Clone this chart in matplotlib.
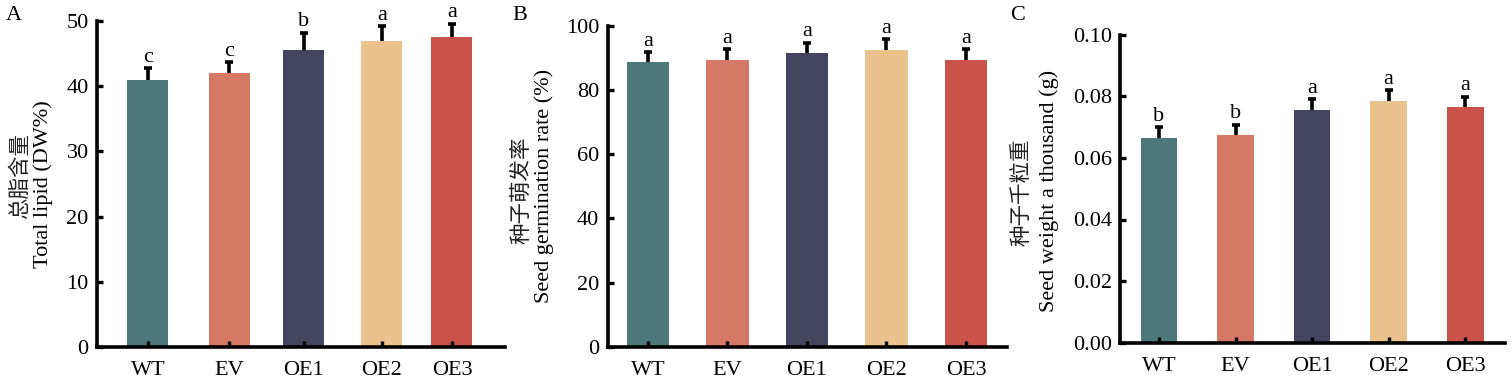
import matplotlib
matplotlib.use("Agg")
import matplotlib.pyplot as plt

# ---- data ----
genotypes = ["WT", "EV", "OE1", "OE2", "OE3"]
colors = ["#4E777A", "#D57866", "#43455E", "#EAC28D", "#C9534B"]

lipid = [41.0, 42.0, 45.6, 47.0, 47.5]
lipid_err = [1.8, 1.7, 2.6, 2.2, 2.1]
lipid_sig = ["c", "c", "b", "a", "a"]

germ = [88.7, 89.5, 91.6, 92.4, 89.5]
germ_err = [3.1, 3.3, 3.2, 3.4, 3.3]
germ_sig = ["a", "a", "a", "a", "a"]

weight = [0.0666, 0.0674, 0.0756, 0.0786, 0.0765]
weight_err = [0.0034, 0.0034, 0.0034, 0.0034, 0.0034]
weight_sig = ["b", "b", "a", "a", "a"]

# ---- layout ----
W, H = 1512, 383
fig = plt.figure(figsize=(W / 100, H / 100), dpi=100)
fam = ["Liberation Serif", "Noto Sans CJK SC"]
plt.rcParams["font.family"] = fam
FS = 16

panels = [
    dict(rect=[97, 21, 505, 347], vals=lipid, err=lipid_err, sig=lipid_sig,
         pos=[0, 1.04, 2.0, 3.0, 3.9], xlim=(-0.654, 4.58), width=0.526,
         ylim=(0, 50), yticks=[0, 10, 20, 30, 40, 50], fmt="{:.0f}",
         cn="总脂含量", en="Total lipid (DW%)",
         cnxy=(21, 176), enxy=(43, 184), tag="A", tagxy=(14, 15)),
    dict(rect=[607.7, 26, 1007, 346.7], vals=germ, err=germ_err, sig=germ_sig,
         pos=[0, 1, 2, 3, 4], xlim=(-0.507, 4.516), width=0.537,
         ylim=(0, 100), yticks=[0, 20, 40, 60, 80, 100], fmt="{:.0f}",
         cn="种子萌发率", en="Seed germination rate (%)",
         cnxy=(522, 190), enxy=(544, 186), tag="B", tagxy=(520, 15)),
    dict(rect=[1120, 34.7, 1505, 342.7], vals=weight, err=weight_err, sig=weight_sig,
         pos=[0, 1, 2, 3, 4], xlim=(-0.51, 4.52), width=0.48,
         ylim=(0, 0.10), yticks=[0, 0.02, 0.04, 0.06, 0.08, 0.10], fmt="{:.2f}",
         cn="种子千粒重", en="Seed weight a thousand (g)",
         cnxy=(1022, 192), enxy=(1049, 191), tag="C", tagxy=(1018, 15)),
]

for p in panels:
    l, t, r, b = p["rect"]
    ax = fig.add_axes([l / W, 1 - b / H, (r - l) / W, (b - t) / H])
    ax.bar(p["pos"], p["vals"], width=p["width"], color=colors, zorder=1)
    _, caps, _ = ax.errorbar(p["pos"], p["vals"], yerr=[[0] * 5, p["err"]], fmt="none",
                             ecolor="black", elinewidth=2.6, capsize=3.2, capthick=2.6,
                             zorder=3)
    caps[0].set_visible(False)
    yr = p["ylim"][1]
    for x, v, e, s in zip(p["pos"], p["vals"], p["err"], p["sig"]):
        ax.text(x, v + e + yr * 0.004, s, ha="center", va="bottom", fontsize=FS,
                family=fam)
    ax.set_xlim(*p["xlim"])
    ax.set_ylim(*p["ylim"])
    ax.set_xticks(p["pos"])
    ax.set_xticklabels(genotypes, fontsize=FS)
    ax.set_yticks(p["yticks"])
    ax.set_yticklabels([p["fmt"].format(v) for v in p["yticks"]], fontsize=FS)
    for side in ["top", "right"]:
        ax.spines[side].set_visible(False)
    for side in ["left", "bottom"]:
        ax.spines[side].set_linewidth(2.6)
        ax.spines[side].set_zorder(4)
    ax.tick_params(axis="both", direction="in", length=4, width=2.4, pad=6)
    ax.tick_params(axis="x", pad=10)
    for tk in ax.xaxis.get_major_ticks() + ax.yaxis.get_major_ticks():
        tk.tick1line.set_zorder(5)
    ax.set_axisbelow(False)
    fig.text(p["cnxy"][0] / W, 1 - p["cnxy"][1] / H, p["cn"], rotation=90,
             ha="center", va="center", fontsize=FS - 0.5, family=fam, color="#222222")
    fig.text(p["enxy"][0] / W, 1 - p["enxy"][1] / H, p["en"], rotation=90,
             ha="center", va="center", fontsize=FS, family=fam)
    fig.text(p["tagxy"][0] / W, 1 - p["tagxy"][1] / H, p["tag"], fontsize=FS,
             ha="center", va="center", family=fam)

fig.savefig("out.png", dpi=100)
